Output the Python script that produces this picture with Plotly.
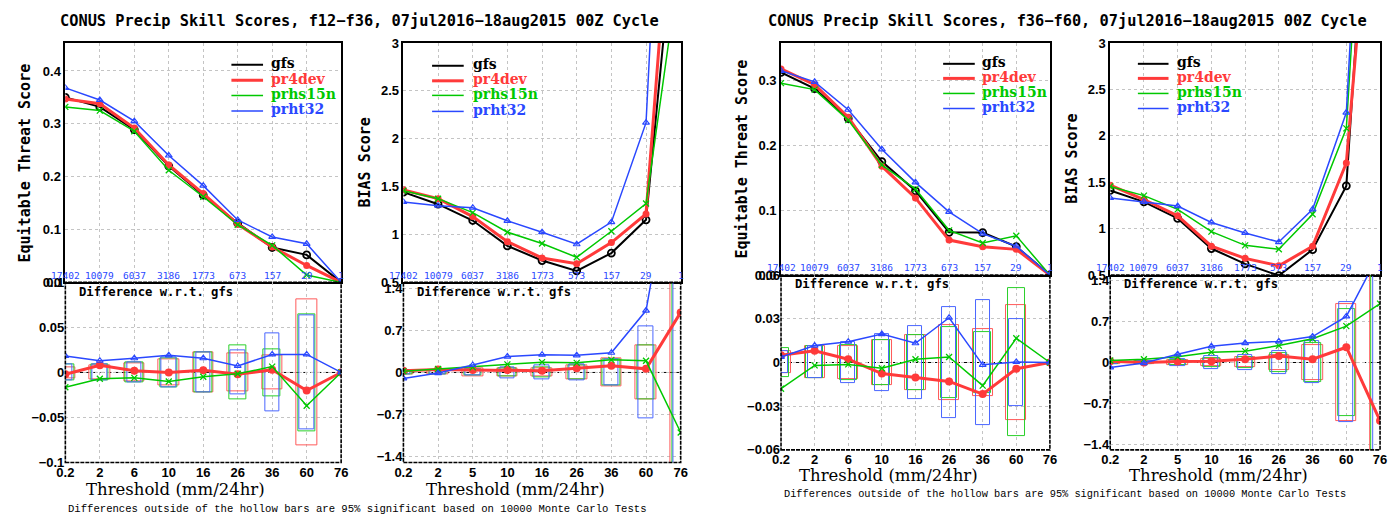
import plotly.graph_objects as go

W, H = 1392, 523

# ---------------- data ----------------
thr_ets = ["0.2", "2", "6", "10", "16", "26", "36", "60", "76"]
thr_bias = ["0.2", "2", "5", "10", "16", "26", "36", "60", "76"]
counts_ets = ["17402", "10079", "6037", "3186", "1773", "673", "157", "29", "1"]
counts_bias = ["17402", "10079", "6037", "3186", "1773", "573", "157", "29", "1"]
models = ["gfs", "pr4dev", "prhs15n", "prht32"]

# f12-f36 Equitable Threat Score
ets1_gfs = [0.350, 0.332, 0.289, 0.220, 0.165, 0.112, 0.066, 0.052, 0.0]
ets1_pr4dev = [0.347, 0.338, 0.292, 0.222, 0.168, 0.110, 0.067, 0.032, 0.0]
ets1_prhs15n = [0.332, 0.325, 0.286, 0.212, 0.162, 0.109, 0.070, 0.014, 0.0]
ets1_prht32 = [0.368, 0.345, 0.305, 0.240, 0.183, 0.118, 0.086, 0.073, 0.0]
ets1_d_pr4dev = [-0.002, 0.008, 0.002, 0.0, 0.0025, -0.002, 0.003, -0.020, 0.0]
ets1_d_prhs15n = [-0.0165, -0.007, -0.006, -0.010, -0.0047, -0.0015, 0.0065, -0.037, 0.0]
ets1_d_prht32 = [0.0183, 0.013, 0.0158, 0.019, 0.0158, 0.0072, 0.020, 0.020, 0.0]
ets1_ci_pr4dev = [0.006, 0.008, 0.010, 0.014, 0.022, 0.021, 0.019, 0.081, 0.0]
ets1_ci_prhs15n = [0.009, 0.009, 0.011, 0.016, 0.022, 0.030, 0.026, 0.065, 0.0]
ets1_ci_prht32 = [0.009, 0.009, 0.011, 0.017, 0.022, 0.024, 0.043, 0.063, 0.0]

# f12-f36 BIAS
bias1_gfs = [1.442, 1.316, 1.146, 0.881, 0.728, 0.619, 0.806, 1.153, 4.9]
bias1_pr4dev = [1.466, 1.374, 1.187, 0.925, 0.755, 0.694, 0.915, 1.214, 5.9]
bias1_prhs15n = [1.456, 1.374, 1.228, 1.024, 0.905, 0.762, 1.034, 1.323, 3.9]
bias1_prht32 = [1.340, 1.300, 1.279, 1.143, 1.024, 0.898, 1.129, 2.167, 9.3]
bias1_d_pr4dev = [0.03, 0.05, 0.04, 0.04, 0.03, 0.07, 0.11, 0.06, 1.0]
bias1_d_prhs15n = [0.02, 0.059, 0.086, 0.135, 0.172, 0.16, 0.21, 0.194, -1.0]
bias1_d_prht32 = [-0.10, -0.01, 0.124, 0.264, 0.296, 0.285, 0.328, 1.03, 4.3]
bias1_ci_pr4dev = [0.04, 0.04, 0.06, 0.07, 0.06, 0.12, 0.23, 0.45, 10.0]
bias1_ci_prhs15n = [0.03, 0.04, 0.05, 0.06, 0.08, 0.12, 0.22, 0.45, 10.0]
bias1_ci_prht32 = [0.03, 0.04, 0.05, 0.09, 0.115, 0.13, 0.22, 0.76, 10.0]

# f36-f60 Equitable Threat Score
ets2_gfs = [0.3125, 0.2875, 0.2415, 0.175, 0.130, 0.066, 0.0655, 0.044, 0.0]
ets2_pr4dev = [0.318, 0.2935, 0.2435, 0.168, 0.119, 0.054, 0.0438, 0.0397, 0.0]
ets2_prhs15n = [0.296, 0.286, 0.239, 0.170, 0.1325, 0.069, 0.0496, 0.0606, 0.0]
ets2_prht32 = [0.315, 0.298, 0.255, 0.194, 0.143, 0.0975, 0.064, 0.0445, 0.0]
ets2_d_pr4dev = [0.005, 0.008, 0.0022, -0.0076, -0.0103, -0.013, -0.0217, -0.0043, 0.0]
ets2_d_prhs15n = [-0.018, -0.002, -0.0013, -0.004, 0.0022, 0.0038, -0.0159, 0.0166, 0.0]
ets2_d_prht32 = [0.0038, 0.0116, 0.0143, 0.0195, 0.0132, 0.0307, -0.0016, 0.0004, 0.0]
ets2_ci_pr4dev = [0.0075, 0.011, 0.0115, 0.0155, 0.0187, 0.0255, 0.0228, 0.0396, 0.0]
ets2_ci_prhs15n = [0.0097, 0.011, 0.012, 0.0155, 0.0187, 0.0245, 0.021, 0.0508, 0.0]
ets2_ci_prht32 = [0.0076, 0.011, 0.014, 0.0198, 0.0252, 0.0382, 0.0428, 0.030, 0.0]

# f36-f60 BIAS
bias2_gfs = [1.412, 1.289, 1.110, 0.786, 0.620, 0.495, 0.774, 1.461, 7.0]
bias2_pr4dev = [1.468, 1.314, 1.138, 0.811, 0.680, 0.600, 0.810, 1.707, 6.0]
bias2_prhs15n = [1.454, 1.356, 1.208, 0.968, 0.820, 0.779, 1.155, 2.080, 8.0]
bias2_prht32 = [1.331, 1.289, 1.243, 1.067, 0.954, 0.856, 1.208, 2.250, 8.9]
bias2_d_pr4dev = [0.02, 0.0, 0.017, 0.022, 0.056, 0.111, 0.056, 0.262, -1.0]
bias2_d_prhs15n = [0.033, 0.056, 0.10, 0.178, 0.195, 0.29, 0.407, 0.624, 1.01]
bias2_d_prht32 = [-0.084, -0.01, 0.14, 0.278, 0.334, 0.362, 0.445, 0.79, 1.9]
bias2_ci_pr4dev = [0.02, 0.03, 0.045, 0.06, 0.085, 0.13, 0.30, 1.01, 10.0]
bias2_ci_prhs15n = [0.02, 0.03, 0.04, 0.08, 0.10, 0.17, 0.34, 0.915, 10.0]
bias2_ci_prht32 = [0.02, 0.03, 0.06, 0.106, 0.128, 0.197, 0.36, 1.03, 10.0]

title1 = "CONUS Precip Skill Scores, f12\u2212f36, 07jul2016\u221218aug2015 00Z Cycle"
title2 = "CONUS Precip Skill Scores, f36\u2212f60, 07jul2016\u221218aug2015 00Z Cycle"
caption = "Differences outside of the hollow bars are 95% significant based on 10000 Monte Carlo Tests"

# ---------------- styling ----------------
COL = {"gfs": "#000000", "pr4dev": "#ff3a3a", "prhs15n": "#00c800", "prht32": "#2a48ff"}
STY = {
    "gfs": dict(width=2, symbol="circle-open", size=7, mlw=1.8),
    "pr4dev": dict(width=3, symbol="circle", size=7, mlw=0),
    "prhs15n": dict(width=1.5, symbol="x-thin-open", size=6, mlw=1.3),
    "prht32": dict(width=1.5, symbol="triangle-up-open", size=6, mlw=1.2),
}
BOXW = {"pr4dev": 0.6, "prhs15n": 0.5, "prht32": 0.42}
BOXC = {"pr4dev": "#ff5a5a", "prhs15n": "#2ad02a", "prht32": "#4a66ff"}
GRID = "#c4c4c4"

def px(x):
    return x / W

def py(y):
    return 1 - y / H

TICKFONT = dict(family="Liberation Sans", size=13, color="black", weight="bold")

panels = [
    dict(box=(57, 336, 37, 283.5, 469), up=[ets1_gfs, ets1_pr4dev, ets1_prhs15n, ets1_prht32],
         diff=[ets1_d_pr4dev, ets1_d_prhs15n, ets1_d_prht32],
         ci=[ets1_ci_pr4dev, ets1_ci_prhs15n, ets1_ci_prht32],
         yr_up=[0, 0.453], yr_lo=[-0.1, 0.1],
         tv_up=[0, 0.1, 0.2, 0.3, 0.4], tt_up=["0.0", "0.1", "0.2", "0.3", "0.4"],
         tv_lo=[-0.1, -0.05, 0, 0.05, 0.1], tt_lo=["\u22120.1", "\u22120.05", "0", "0.05", "0.1"],
         thr=thr_ets, counts=counts_ets, ytitle="Equitable Threat Score", ytx=16,
         leg=(225, 257, 263, [58, 74, 89.5, 105.5]), diffy=293, thx=168, thy=497),
    dict(box=(399, 679.5, 37, 283.5, 469), up=[bias1_gfs, bias1_pr4dev, bias1_prhs15n, bias1_prht32],
         diff=[bias1_d_pr4dev, bias1_d_prhs15n, bias1_d_prht32],
         ci=[bias1_ci_pr4dev, bias1_ci_prhs15n, bias1_ci_prht32],
         yr_up=[0.5, 3], yr_lo=[-1.5, 1.5],
         tv_up=[0.5, 1, 1.5, 2, 2.5, 3], tt_up=["0.5", "1", "1.5", "2", "2.5", "3"],
         tv_lo=[-1.4, -0.7, 0, 0.7, 1.4], tt_lo=["\u22121.4", "\u22120.7", "0", "0.7", "1.4"],
         thr=thr_bias, counts=counts_bias, ytitle="BIAS Score", ytx=360,
         leg=(428, 460, 467, [59, 74.5, 89.5, 106]), diffy=293, thx=512, thy=497),
    dict(box=(781, 1053, 37, 276, 456), up=[ets2_gfs, ets2_pr4dev, ets2_prhs15n, ets2_prht32],
         diff=[ets2_d_pr4dev, ets2_d_prhs15n, ets2_d_prht32],
         ci=[ets2_ci_pr4dev, ets2_ci_prhs15n, ets2_ci_prht32],
         yr_up=[0, 0.358], yr_lo=[-0.06, 0.06],
         tv_up=[0, 0.1, 0.2, 0.3], tt_up=["0.0", "0.1", "0.2", "0.3"],
         tv_lo=[-0.06, -0.03, 0, 0.03, 0.06], tt_lo=["\u22120.06", "\u22120.03", "0", "0.03", "0.06"],
         thr=thr_ets, counts=counts_ets, ytitle="Equitable Threat Score", ytx=742,
         leg=(945, 977, 982, [57, 72, 87.5, 103]), diffy=285, thx=890, thy=482),
    dict(box=(1114, 1387, 37, 276, 456), up=[bias2_gfs, bias2_pr4dev, bias2_prhs15n, bias2_prht32],
         diff=[bias2_d_pr4dev, bias2_d_prhs15n, bias2_d_prht32],
         ci=[bias2_ci_pr4dev, bias2_ci_prhs15n, bias2_ci_prht32],
         yr_up=[0.5, 3], yr_lo=[-1.5, 1.5],
         tv_up=[0.5, 1, 1.5, 2, 2.5, 3], tt_up=["0.5", "1", "1.5", "2", "2.5", "3"],
         tv_lo=[-1.4, -0.7, 0, 0.7, 1.4], tt_lo=["\u22121.4", "\u22120.7", "0", "0.7", "1.4"],
         thr=thr_bias, counts=counts_bias, ytitle="BIAS Score", ytx=1075,
         leg=(1142, 1173, 1180, [57, 72, 87.5, 103]), diffy=285, thx=1224, thy=482),
]

fig = go.Figure()
layout = {}
shapes = []
annots = []

for i, p in enumerate(panels):
    x0, x1, yt, ym, yb = p["box"]
    nu, nl = 2 * i + 1, 2 * i + 2
    xu = "x" if nu == 1 else f"x{nu}"
    yu = "y" if nu == 1 else f"y{nu}"
    xl, yl = f"x{nl}", f"y{nl}"
    idx = list(range(len(p["thr"])))
    n8 = len(idx) - 1

    common_x = dict(range=[0, n8], tickvals=idx, showgrid=True, griddash="dot", gridcolor=GRID,
                    gridwidth=1, zeroline=False, ticks="", tickfont=TICKFONT, fixedrange=True)
    layout["xaxis" if nu == 1 else f"xaxis{nu}"] = dict(
        common_x, domain=[px(x0), px(x1)], anchor=yu, showticklabels=False,
        showline=True, mirror=True, linecolor="black", linewidth=1.6)
    layout[f"xaxis{nl}"] = dict(
        common_x, domain=[px(x0), px(x1)], anchor=yl, ticktext=p["thr"], showticklabels=True,
        showline=False)
    common_y = dict(showgrid=True, griddash="dot", gridcolor=GRID, gridwidth=1, zeroline=False,
                    ticks="", tickfont=TICKFONT, fixedrange=True)
    layout["yaxis" if nu == 1 else f"yaxis{nu}"] = dict(
        common_y, domain=[py(ym), py(yt)], anchor=xu, range=p["yr_up"],
        tickvals=p["tv_up"], ticktext=p["tt_up"],
        showline=True, mirror=True, linecolor="black", linewidth=1.6)
    layout[f"yaxis{nl}"] = dict(
        common_y, domain=[py(yb), py(ym)], anchor=xl, range=p["yr_lo"],
        tickvals=p["tv_lo"], ticktext=p["tt_lo"], showline=False)

    # hollow significance bars
    for m, ci in zip(models[1:], p["ci"]):
        xs = [k for k in idx if ci[k] > 0]
        fig.add_trace(go.Bar(
            x=xs, y=[2 * ci[k] for k in xs], base=[-ci[k] for k in xs], width=BOXW[m],
            marker=dict(color="rgba(0,0,0,0)", line=dict(color=BOXC[m], width=1)),
            xaxis=xl, yaxis=yl, showlegend=False, hoverinfo="skip"))

    # upper scores
    for m, vals in zip(models, p["up"]):
        s = STY[m]
        fig.add_trace(go.Scatter(
            x=idx, y=vals, mode="lines+markers", xaxis=xu, yaxis=yu, showlegend=False,
            line=dict(color=COL[m], width=s["width"]),
            marker=dict(symbol=s["symbol"], size=s["size"], color=COL[m],
                        line=dict(color=COL[m], width=s["mlw"]))))

    # differences w.r.t. gfs
    for m, vals in zip(models[1:], p["diff"]):
        s = STY[m]
        fig.add_trace(go.Scatter(
            x=idx, y=vals, mode="lines+markers", xaxis=xl, yaxis=yl, showlegend=False,
            line=dict(color=COL[m], width=s["width"]),
            marker=dict(symbol=s["symbol"], size=s["size"] + (1 if m == "pr4dev" else 0), color=COL[m],
                        line=dict(color=COL[m], width=s["mlw"]))))

    # lower panel frame (dashed) and zero line
    shapes.append(dict(type="rect", xref=f"{xl} domain", yref=f"{yl} domain", x0=0, x1=1, y0=0, y1=1,
                       line=dict(color="black", width=1.6, dash="4px,1px")))
    shapes.append(dict(type="line", xref=f"{xl} domain", yref=yl, x0=0, x1=1, y0=0, y1=0,
                       line=dict(color="black", width=1, dash="4px,3px"), layer="below"))

    # counts above the x axis of the upper panel
    for k, c in zip(idx, p["counts"]):
        annots.append(dict(x=k, xref=xu, y=py(ym - 7.5), yref="paper", text=c, showarrow=False,
                           font=dict(family="DejaVu Sans Mono", size=9.5, color="#2a48ff"),
                           xanchor="center", yanchor="middle"))

    # legend
    lx0, lx1, tx, rows = p["leg"]
    for m, ry in zip(models, rows):
        shapes.append(dict(type="line", xref="paper", yref="paper", x0=px(lx0), x1=px(lx1),
                           y0=py(ry + 1.5), y1=py(ry + 1.5),
                           line=dict(color=COL[m], width=STY[m]["width"])))
        annots.append(dict(x=px(tx), y=py(ry), xref="paper", yref="paper", text=m, showarrow=False,
                           xanchor="left", yanchor="middle",
                           font=dict(family="DejaVu Serif", size=14, color=COL[m], weight="bold")))

    # texts
    annots.append(dict(x=px(p["ytx"]), y=py((yt + ym) / 2), xref="paper", yref="paper", text=p["ytitle"],
                       textangle=-90, showarrow=False, xanchor="center", yanchor="middle",
                       font=dict(family="DejaVu Sans Mono", size=15, color="black", weight="bold")))
    annots.append(dict(x=px(x0 + 12), y=py(p["diffy"]), xref="paper", yref="paper",
                       text="Difference w.r.t. gfs", showarrow=False, xanchor="left", yanchor="middle",
                       font=dict(family="DejaVu Sans Mono", size=12.2, color="black", weight="bold")))
    annots.append(dict(x=px(p["thx"]), y=py(p["thy"]), xref="paper", yref="paper",
                       text="Threshold (mm/24hr)", showarrow=False, xanchor="center", yanchor="middle",
                       font=dict(family="DejaVu Serif", size=16.5, color="black")))

for t, cx in ((title1, 355), (title2, 1071)):
    annots.append(dict(x=px(cx), y=py(14), xref="paper", yref="paper", text=t, showarrow=False,
                       xanchor="center", yanchor="middle",
                       font=dict(family="DejaVu Sans Mono", size=15.3, color="black", weight="bold")))
for sx, sy, fs in ((58, 517, 10.6), (782, 501, 10.3)):
    annots.append(dict(x=px(sx), y=py(sy), xref="paper", yref="paper", text=caption, showarrow=False,
                       xanchor="left", yanchor="middle",
                       font=dict(family="Liberation Mono", size=fs, color="black")))

fig.update_layout(
    width=W, height=H, autosize=False, margin=dict(l=0, r=0, t=0, b=0, pad=0),
    paper_bgcolor="white", plot_bgcolor="white", barmode="overlay", bargap=0,
    shapes=shapes, annotations=annots, showlegend=False, **layout)

fig.write_html("out.html", include_plotlyjs=True, config={"displayModeBar": False},
               post_script="document.body.style.margin='0';document.body.style.overflow='hidden';")
